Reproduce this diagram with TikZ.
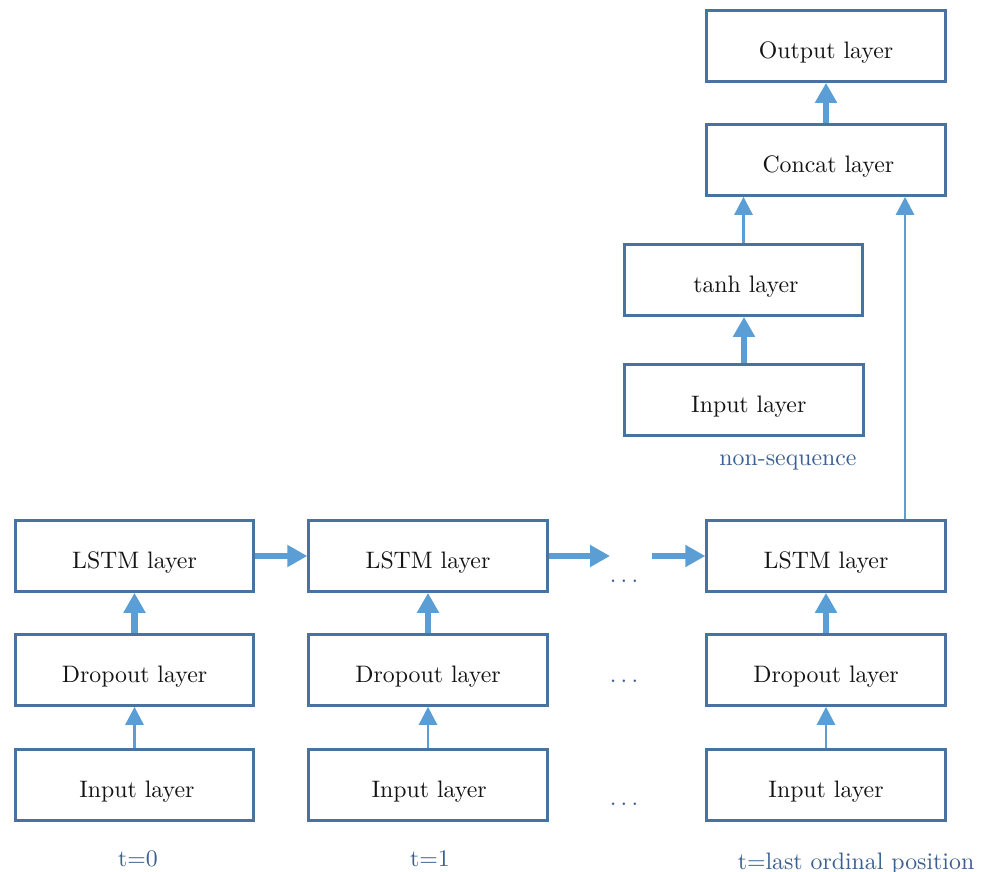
\documentclass[tikz,border=0pt]{standalone}
\usetikzlibrary{arrows.meta}
\definecolor{boxcol}{RGB}{72,115,160}
\definecolor{arrcol}{RGB}{91,157,213}
\definecolor{labcol}{RGB}{58,95,145}
\definecolor{txtcol}{RGB}{20,20,20}
\newcommand{\mydots}{.\kern1.8pt.\kern1.8pt.}
\begin{document}
\begin{tikzpicture}[x=0.42pt,y=-0.42pt,
  layerbox/.style={draw=boxcol, line width=1.15pt, minimum width=100.2pt, minimum height=29.8pt,
    inner sep=0pt, text height=10.8pt, text depth=0pt, text=txtcol, fill=white},
  thickarrow/.style={draw=arrcol, line width=2.6pt, -{Triangle[width=8.8pt,length=8.4pt]}},
  thinarrow/.style={draw=arrcol, line width=1.2pt, -{Triangle[width=7.6pt,length=7.6pt]}},
  lab/.style={text=labcol, anchor=base, inner sep=0pt},
]
\useasboundingbox (0,0) rectangle (989,872);

% column t=0
\node[layerbox] (lstmA) at (134.5,556) {LSTM layer};
\node[layerbox] (dropA) at (134.5,670) {Dropout layer};
\node[layerbox] (inA)   at (134.5,785) {\hspace{2pt}Input layer};
% column t=1
\node[layerbox] (lstmB) at (428,556) {LSTM layer};
\node[layerbox] (dropB) at (428,670) {Dropout layer};
\node[layerbox] (inB)   at (428,785) {\hspace{1pt}Input layer};
% column last
\node[layerbox] (lstmC) at (826,556) {LSTM layer};
\node[layerbox] (dropC) at (826,670) {Dropout layer};
\node[layerbox] (inC)   at (826,785) {Input layer};
% top part
\node[layerbox] (output) at (826,46)  {Output layer};
\node[layerbox] (concat) at (826,160) {\hspace{2pt}Concat layer};
\node[layerbox] (tanh)   at (743.5,280) {\hspace{2pt}tanh layer};
\node[layerbox] (inNS)   at (744,400) {\hspace{4pt}Input layer};

% dots
\node[lab] (dotsA) at (624,582) {\mydots};
\node[lab] (dotsB) at (624,682) {\mydots};
\node[lab] (dotsC) at (624,805) {\mydots};
\coordinate (dotsIn)  at (610,556);
\coordinate (dotsOut) at (652,556);

% labels
\node[lab] (t0)     at (138,866) {t=0};
\node[lab] (t1)     at (430,866) {t=1};
\node[lab] (tlast)  at (856,869) {t=last ordinal position};
\node[lab] (nonseq) at (788,465) {non-sequence};

% arrows
\draw[thinarrow]  (inA.north) -- (dropA.south);
\draw[thickarrow] (dropA.north) -- (lstmA.south);
\draw[thinarrow]  (inB.north) -- (dropB.south);
\draw[thickarrow] (dropB.north) -- (lstmB.south);
\draw[thinarrow]  (inC.north) -- (dropC.south);
\draw[thickarrow] (dropC.north) -- (lstmC.south);

\draw[thickarrow] (lstmA.east) -- (lstmB.west);
\draw[thickarrow] (lstmB.east) -- (dotsIn);
\draw[thickarrow] (dotsOut) -- (lstmC.west);

\draw[thickarrow] (inNS.north) -- (inNS.north |- tanh.south);
\draw[thinarrow]  (tanh.north) -- (tanh.north |- concat.south);
\draw[thickarrow] (concat.north) -- (output.south);
\draw[thinarrow]  ([xshift=33.2pt]lstmC.north) -- ([xshift=33.2pt]concat.south);
\end{tikzpicture}
\end{document}
